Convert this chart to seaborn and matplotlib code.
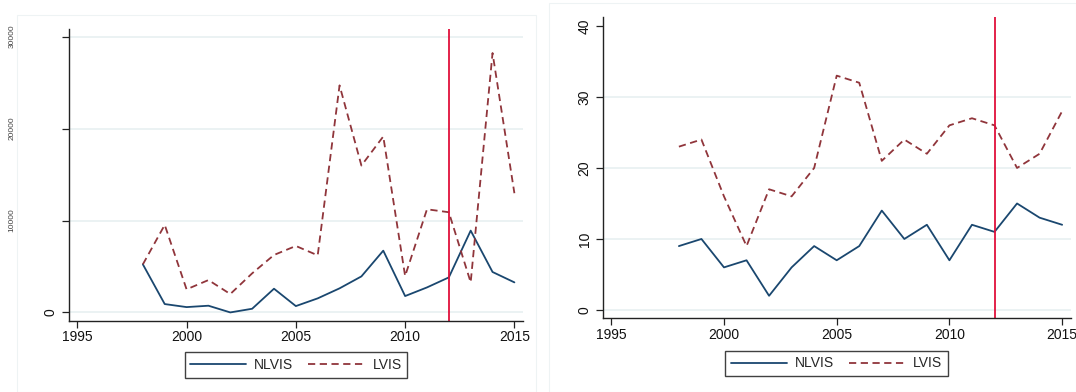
import numpy as np
import pandas as pd
import matplotlib
matplotlib.use('Agg')
import matplotlib.pyplot as plt
import matplotlib.transforms as mtransforms
from matplotlib.lines import Line2D
from matplotlib.patches import Rectangle
import seaborn as sns

years = list(range(1998, 2016))

# left panel (y tick labels are unreadable in the source, scale estimated)
left_nlvis = [5230, 910, 580, 730, 0, 400, 2580, 690, 1530, 2620, 3920, 6720,
              1780, 2720, 3810, 8900, 4400, 3270]
left_lvis = [5230, 9520, 2510, 3520, 2000, 4250, 6250, 7230, 6210, 24700, 15980,
             19140, 3960, 11220, 10900, 3270, 28220, 12970]
left_ticks = [0, 10000, 20000, 30000]

# right panel
right_nlvis = [9, 10, 6, 7, 2, 6, 9, 7, 9, 14, 10, 12, 7, 12, 11, 15, 13, 12]
right_lvis = [23, 24, 16, 9, 17, 16, 20, 33, 32, 21, 24, 22, 26, 27, 26, 20, 22, 28]
right_ticks = [0, 10, 20, 30, 40]

x_ticks = [1995, 2000, 2005, 2010, 2015]
cutoff_year = 2012

NAVY = '#1a476f'
MAROON = '#90353b'
RED = '#e0103c'
GRID = '#e8f0f1'

sns.set_theme(style='white')
plt.rcParams['font.family'] = ['Liberation Sans', 'DejaVu Sans']
plt.rcParams['font.size'] = 10

fig = plt.figure(figsize=(10.76, 3.92), dpi=100)

# faint panel frames
fig.patches.append(Rectangle((17 / 1076, 0.0), 519 / 1076, 1 - 15 / 392,
                             transform=fig.transFigure, fill=False,
                             edgecolor='#eef3f4', lw=0.8))
fig.patches.append(Rectangle((549 / 1076, 0.0), 527 / 1076, 1 - 3 / 392,
                             transform=fig.transFigure, fill=False,
                             edgecolor='#eef3f4', lw=0.8))

ax1 = fig.add_axes([69 / 1076, 1 - 320.7 / 392, (522.7 - 69) / 1076, (320.7 - 29.3) / 392])
ax2 = fig.add_axes([602.7 / 1076, 1 - 318.3 / 392, (1070.7 - 602.7) / 1076, (318.3 - 16.7) / 392])


def draw_panel(ax, nlvis, lvis, yticks, ylim):
    df = pd.DataFrame({'year': years, 'NLVIS': nlvis, 'LVIS': lvis})
    sns.lineplot(data=df, x='year', y='NLVIS', ax=ax, color=NAVY, lw=1.3)
    sns.lineplot(data=df, x='year', y='LVIS', ax=ax, color=MAROON, lw=1.3,
                 linestyle=(0, (4, 2.5)))
    ax.axvline(cutoff_year, color=RED, lw=1.3)
    ax.set_xlim(1994.62, 2015.38)
    ax.set_ylim(*ylim)
    ax.set_xticks(x_ticks)
    ax.set_yticks(yticks)
    ax.set_xlabel('')
    ax.set_ylabel('')
    ax.yaxis.grid(True, color=GRID, lw=1.2)
    ax.set_axisbelow(True)
    for s in ['top', 'right']:
        ax.spines[s].set_visible(False)
    for s in ['left', 'bottom']:
        ax.spines[s].set_color('#222222')
        ax.spines[s].set_linewidth(1.0)
    ax.tick_params(axis='both', direction='out', length=5, width=0.9,
                   color='#222222', labelsize=10, labelcolor='#111111', pad=2,
                   bottom=True, left=True)
    ax.tick_params(axis='y', pad=3)
    for lab in ax.get_yticklabels():
        lab.set_rotation(90)
        lab.set_va('center')
    handles = [Line2D([], [], color=NAVY, lw=1.3),
               Line2D([], [], color=MAROON, lw=1.3, linestyle=(0, (4, 2.5)))]
    leg = ax.legend(handles, ['NLVIS', 'LVIS'], ncol=2, loc='upper center',
                    bbox_to_anchor=(0.5, -0.085), frameon=True, fancybox=False,
                    handlelength=4.0, columnspacing=1.1, borderpad=0.4,
                    handletextpad=0.6, fontsize=10)
    leg.get_frame().set_edgecolor('#111111')
    leg.get_frame().set_linewidth(1.0)


step = left_ticks[1]
draw_panel(ax1, left_nlvis, left_lvis, left_ticks, (-0.09 * step, 3.08 * step))
draw_panel(ax2, right_nlvis, right_lvis, right_ticks, (-1.17, 41.3))
ax2.get_ygridlines()[-1].set_visible(False)

# left panel: only "0" drawn by the axis, the other labels sit far left
ax1.set_yticklabels([str(left_ticks[0])] + [''] * (len(left_ticks) - 1))
for lab in ax1.get_yticklabels():
    lab.set_rotation(90)
    lab.set_va('center')
trans = mtransforms.blended_transform_factory(fig.transFigure, ax1.transData)
for v in left_ticks[1:]:
    ax1.text(12 / 1076, v, str(v), transform=trans, rotation=90, ha='center',
             va='center', fontsize=6, color='#444444')

fig.savefig('out.png', dpi=100)
